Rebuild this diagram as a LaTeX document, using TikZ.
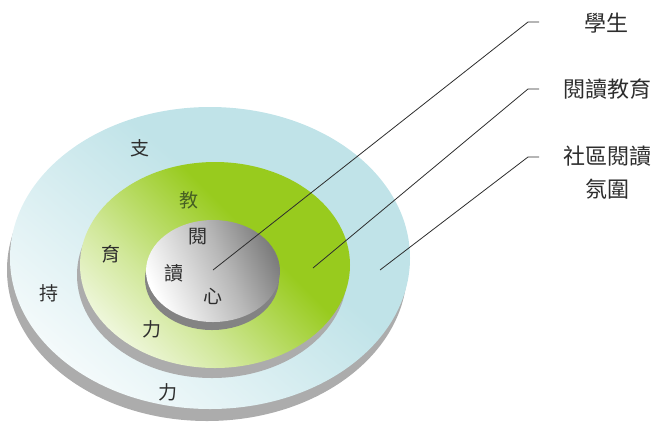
\documentclass[tikz,border=0pt]{standalone}
\usepackage{fontspec}
\newfontfamily\cjk{Noto Sans CJK TC}
\usetikzlibrary{positioning}
\definecolor{SkyBlue}{RGB}{192,227,232}
\definecolor{Leaf}{RGB}{152,203,30}
\definecolor{Stone}{RGB}{125,125,125}
\definecolor{EdgeGrey}{RGB}{172,172,172}
\definecolor{Ink}{RGB}{45,45,45}
\definecolor{Olive}{RGB}{70,95,35}
\pgfdeclareverticalshading{skyfade}{100bp}{color(0bp)=(SkyBlue); color(25bp)=(SkyBlue);
  color(42bp)=(SkyBlue); color(82bp)=(white); color(100bp)=(white)}
\pgfdeclareverticalshading{leaffade}{100bp}{color(0bp)=(Leaf); color(25bp)=(Leaf);
  color(40bp)=(Leaf); color(62bp)=(Leaf!45!white); color(80bp)=(Leaf!6!white); color(100bp)=(white)}
\pgfdeclareverticalshading{stonefade}{100bp}{color(0bp)=(Stone); color(25bp)=(Stone);
  color(45bp)=(Stone!55!white); color(75bp)=(white); color(100bp)=(white)}
\tikzset{
  dside/.style={fill=EdgeGrey},
  dlbl/.style={font=\cjk\fontsize{19}{22}\selectfont,text=Ink,inner sep=0pt},
  rlbl/.style={font=\cjk\fontsize{22}{33}\selectfont,text=Ink,inner sep=0pt,align=center},
  lead/.style={draw=Ink,line width=0.8pt},
}

\begin{document}
\begin{tikzpicture}[x=1pt,y=-1pt]
  \useasboundingbox (0,0) rectangle (660,432);
  % outer disc
  \fill[dside] (207,270) ellipse (200 and 151);
  \shade[shading=skyfade,shading angle=140] (210,258) ellipse (200 and 151);
  % green disc
  \fill[dside] (212,275) ellipse (135 and 103);
  \shade[shading=leaffade,shading angle=135] (215,265) ellipse (135 and 103);
  % centre disc
  \fill[fill=Stone!95!white] (212,279) ellipse (67 and 51);
  \shade[shading=stonefade,shading angle=115] (213,271) ellipse (67 and 51);

  % ring labels
  \node[dlbl] (zhi)  at (140,148) {支};
  \node[dlbl] (chi)  at (49,293)  {持};
  \node[dlbl] (liA)  at (168,392) {力};
  \node[dlbl,text=Olive] (jiao) at (189,200) {教};
  \node[dlbl] (yu)   at (111,254) {育};
  \node[dlbl] (liB)  at (152,329) {力};
  \node[dlbl] (yue)  at (198,237) {閱};
  \node[dlbl] (du)   at (174,273) {讀};
  \node[dlbl] (xin)  at (213,296) {心};

  % right labels
  \node[rlbl] (lStudent) at (606,23)  {學生};
  \node[rlbl] (lTeach)   at (607,89)  {閱讀教育};
  \node[rlbl] (lComm)    at (607,173) {社區閱讀\\氛圍};

  \coordinate (pStudent) at (213,270);
  \coordinate (bStudent) at (528,22);
  \coordinate (eStudent) at (539,22);
  \coordinate (pTeach) at (313,268);
  \coordinate (bTeach) at (528,89);
  \coordinate (eTeach) at (539,89);
  \coordinate (pComm) at (380,270);
  \coordinate (bComm) at (528,157);
  \coordinate (eComm) at (539,157);

  \draw[lead] (pStudent) -- (bStudent) -- (eStudent);
  \draw[lead] (pTeach) -- (bTeach) -- (eTeach);
  \draw[lead] (pComm) -- (bComm) -- (eComm);
\end{tikzpicture}
\end{document}
